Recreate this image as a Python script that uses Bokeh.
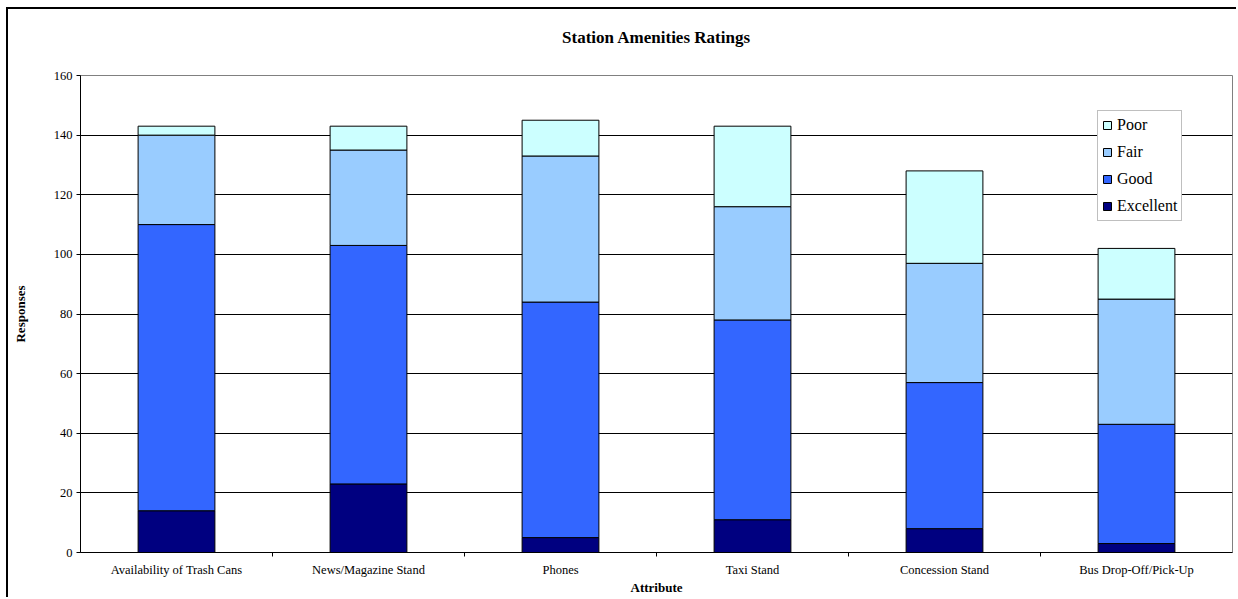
from bokeh.plotting import figure
from bokeh.models import (FactorRange, Range1d, LinearAxis, CategoricalAxis, FixedTicker,
                          Legend, LegendItem, ColumnDataSource, Grid)
from bokeh.embed import file_html
from bokeh.resources import INLINE

# Survey responses per station amenity
attributes = ["Availability of Trash Cans", "News/Magazine Stand", "Phones",
              "Taxi Stand", "Concession Stand", "Bus Drop-Off/Pick-Up"]
excellent = [14, 23, 5, 11, 8, 3]
good = [96, 80, 79, 67, 49, 40]
fair = [30, 32, 49, 38, 40, 42]
poor = [3, 8, 12, 27, 31, 17]

ratings = ["Excellent", "Good", "Fair", "Poor"]
colors = ["#000080", "#3366FF", "#99CCFF", "#CCFFFF"]
y_ticks = [0, 20, 40, 60, 80, 100, 120, 140, 160]

FONT = "Liberation Serif"

source = ColumnDataSource(dict(attribute=attributes, Excellent=excellent,
                               Good=good, Fair=fair, Poor=poor))

p = figure(width=1230, height=590,
           x_range=FactorRange(*attributes, range_padding=0),
           y_range=Range1d(0, 160),
           output_backend="svg", toolbar_location=None,
           x_axis_location=None, y_axis_location=None,
           min_border_left=72, min_border_right=6,
           min_border_top=66, min_border_bottom=47)
p.margin = (7, 0, 0, 6)
p.styles = {"border-left": "2px solid #000000", "border-top": "2px solid #000000"}
p.background_fill_color = "white"
p.border_fill_color = "white"
p.outline_line_color = "#808080"
p.outline_line_width = 1
p.grid.visible = False

# chart title
p.title.text = "Station Amenities Ratings"
p.title.align = "center"
p.title.offset = -33
p.title.standoff = 26
p.title.text_font = FONT
p.title.text_font_style = "bold"
p.title.text_font_size = "17px"
p.title.text_color = "#000000"

# horizontal gridlines
p.add_layout(Grid(dimension=1, ticker=FixedTicker(ticks=y_ticks),
                  grid_line_color="#000000", grid_line_width=1))

# stacked bars
renderers = p.vbar_stack(ratings, x="attribute", width=0.4, source=source,
                         fill_color=colors, line_color="#000000", line_width=1)

# y axis
yaxis = LinearAxis(ticker=FixedTicker(ticks=y_ticks))
yaxis.axis_line_color = "#000000"
yaxis.axis_line_width = 1
yaxis.major_tick_out = 4
yaxis.major_tick_in = 0
yaxis.minor_tick_line_color = None
yaxis.major_label_standoff = 4
yaxis.major_label_text_font = FONT
yaxis.major_label_text_font_size = "12.5px"
yaxis.major_label_text_color = "#000000"
yaxis.axis_label = "Responses"
yaxis.axis_label_standoff = 23
yaxis.axis_label_text_font = FONT
yaxis.axis_label_text_font_style = "bold"
yaxis.axis_label_text_font_size = "13px"
yaxis.axis_label_text_color = "#000000"
p.add_layout(yaxis, "left")

# category boundary ticks along the bottom: one factor per boundary,
# padded inward so that the first and last sit on the frame edges
edges = [f"b{i}" for i in range(len(attributes) + 1)]
p.extra_x_ranges = {"edges": FactorRange(*edges, range_padding=-0.5,
                                         range_padding_units="absolute")}
edge_axis = CategoricalAxis(x_range_name="edges")
edge_axis.axis_line_color = "#000000"
edge_axis.major_tick_out = 4
edge_axis.major_tick_in = 0
edge_axis.major_label_text_font_size = "1px"
edge_axis.major_label_text_color = None
edge_axis.major_label_standoff = 0
p.add_layout(edge_axis, "below")

# category labels
cat_axis = CategoricalAxis()
cat_axis.axis_line_color = None
cat_axis.major_tick_line_color = None
cat_axis.major_label_standoff = 0
cat_axis.major_label_text_font = FONT
cat_axis.major_label_text_font_size = "12.5px"
cat_axis.major_label_text_color = "#000000"
cat_axis.axis_label = "Attribute"
cat_axis.axis_label_standoff = 0
cat_axis.axis_label_text_font = FONT
cat_axis.axis_label_text_font_style = "bold"
cat_axis.axis_label_text_font_size = "13px"
cat_axis.axis_label_text_color = "#000000"
p.add_layout(cat_axis, "below")

# blank band above the frame that lifts the title
top_gap = CategoricalAxis(x_range_name="edges")
top_gap.axis_line_color = None
top_gap.major_tick_line_color = None
top_gap.major_tick_out = 16
top_gap.major_tick_in = 0
top_gap.major_label_text_font_size = "1px"
top_gap.major_label_text_color = None
top_gap.major_label_standoff = 0
p.add_layout(top_gap, "above")

# legend, top category first
by_name = dict(zip(ratings, renderers))
legend = Legend(items=[LegendItem(label=name, renderers=[by_name[name]])
                       for name in reversed(ratings)],
                location=(1017, 331))
legend.margin = 0
legend.padding = 4
legend.spacing = 7
legend.label_height = 20
legend.glyph_width = 10
legend.glyph_height = 10
legend.label_standoff = 5
legend.label_text_font = FONT
legend.label_text_font_size = "16px"
legend.label_text_color = "#000000"
legend.border_line_color = "#808080"
legend.border_line_width = 1
legend.background_fill_color = "white"
legend.background_fill_alpha = 1
p.add_layout(legend)

open("out.html", "w").write(file_html(p, INLINE))
